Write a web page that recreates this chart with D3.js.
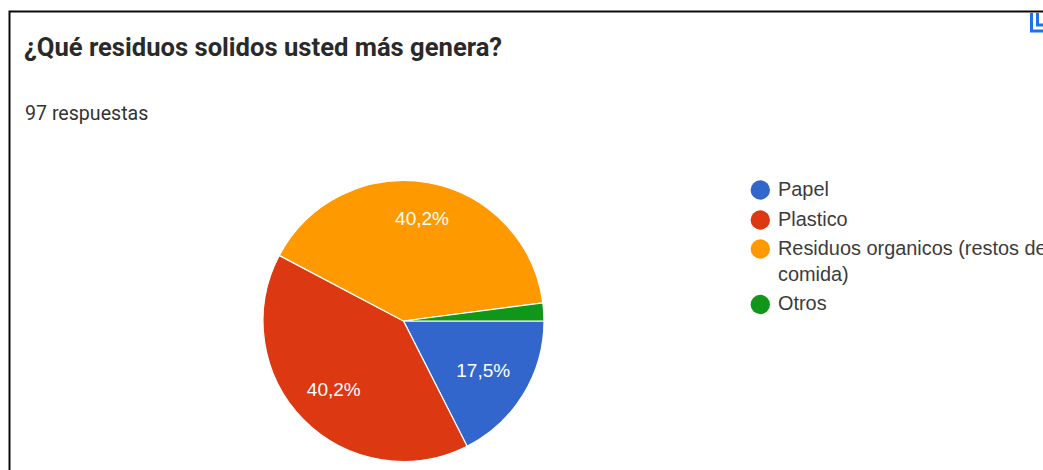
<!DOCTYPE html>
<html><head><meta charset="utf-8">
<script src="https://d3js.org/d3.v7.min.js"></script>
<style>html,body{margin:0;padding:0;background:#fff;overflow:hidden}svg{display:block}</style>
</head><body><svg id="c" width="1043" height="470"></svg>
<script>
const categories = ["Papel","Plastico","Residuos organicos (restos de comida)","Otros"];
const legendLines = [["Papel"],["Plastico"],["Residuos organicos (restos de","comida)"],["Otros"]];
const responses = [17,39,39,2];
const percentLabels = ["17,5%","40,2%","40,2%",""];
const colors = ["#3366cc","#dc3912","#ff9900","#109618"];

const svg = d3.select("#c");
const headFont = "Roboto, Arial, sans-serif";
const chartFont = "'Liberation Sans', Arial, sans-serif";

// card frame, open at the bottom and right
svg.append("path").attr("d","M9.5 470V11.5H1043").attr("fill","none").attr("stroke","#0a0a0a").attr("stroke-width",2);

svg.append("text").attr("x",24).attr("y",56).attr("font-family",headFont).attr("font-size",25.6).attr("font-weight",700).attr("fill","#2a2a2a").text("¿Qué residuos solidos usted más genera?");
svg.append("text").attr("x",25).attr("y",120).attr("font-family",headFont).attr("font-size",19.6).attr("fill","#333").text("97 respuestas");

// corner icon, clipped by the top of the card
svg.append("g").attr("fill","none").attr("stroke","#1a73e8").attr("stroke-width",3)
  .selectAll("path").data(["M1031.5 13V31H1043","M1037.5 13V25H1043"]).join("path").attr("d",d=>d);

const cx=403.5, cy=321, r=140.5;
const pie=d3.pie().sort(null).value(d=>d).startAngle(Math.PI/2).endAngle(Math.PI*2.5);
const arc=d3.arc().innerRadius(0).outerRadius(r);
const g=svg.append("g").attr("transform",`translate(${cx},${cy})`);
const slices=pie(responses);
g.selectAll("path").data(slices).join("path").attr("d",arc).attr("fill",(d,i)=>colors[i]).attr("stroke","#fff").attr("stroke-width",1.2);

// labels sit further out where a slice's middle points up or down
const labelPos=d=>{
  const a=(d.startAngle+d.endAngle)/2;
  const rad=r*(0.577+0.17*Math.abs(Math.cos(a)));
  return [rad*Math.sin(a),-rad*Math.cos(a)];
};
g.selectAll("text").data(slices).join("text")
 .attr("transform",d=>`translate(${labelPos(d)})`)
 .attr("text-anchor","middle").attr("dy","0.36em").attr("font-family",chartFont).attr("font-size",19).attr("fill","#fff")
 .text((d,i)=>percentLabels[i]);

const dotY=[190,220,249,304.5];
const baseY=[196,225.5,255,310];
const lg=svg.append("g");
legendLines.forEach((lines,i)=>{
  lg.append("circle").attr("cx",760.3).attr("cy",dotY[i]).attr("r",9.7).attr("fill",colors[i]);
  lines.forEach((t,j)=>lg.append("text").attr("x",778).attr("y",baseY[i]+j*26).attr("font-family",chartFont).attr("font-size",19.9).attr("fill","#3c3c3c").text(t));
});
</script></body></html>
